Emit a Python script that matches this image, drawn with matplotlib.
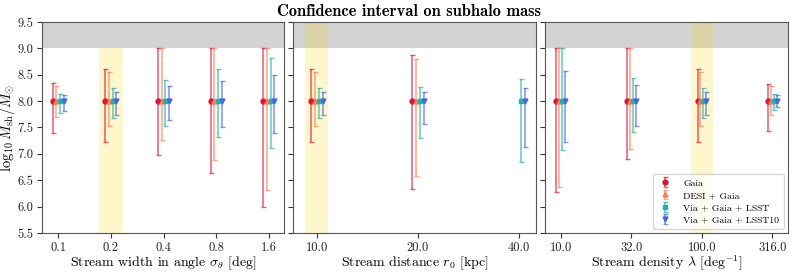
import numpy as np
import matplotlib
matplotlib.use("Agg")
import matplotlib.pyplot as plt

plt.rcParams['font.family'] = 'serif'
plt.rcParams['font.serif'] = ['cmr10', 'DejaVu Serif']
plt.rcParams['mathtext.fontset'] = 'cm'
plt.rcParams['axes.formatter.use_mathtext'] = True

# ---------------- data ----------------
series = ["Gaia", "DESI + Gaia", "Via + Gaia + LSST", "Via + Gaia + LSST10"]
colors = ["crimson", "coral", "lightseagreen", "royalblue"]
markers = ["o", "^", "s", "v"]
center = 8.0

# panel 1: stream width
width_labels = ["0.1", "0.2", "0.4", "0.8", "1.6"]
width_lo = {
    "Gaia":                [7.40, 7.23, 6.98, 6.64, 6.00],
    "DESI + Gaia":         [7.69, 7.52, 7.26, 6.89, 6.31],
    "Via + Gaia + LSST":   [7.77, 7.68, 7.52, 7.32, 7.12],
    "Via + Gaia + LSST10": [7.81, 7.745, 7.64, 7.51, 7.39],
}
width_hi = {
    "Gaia":                [8.34, 8.60, 9.00, 9.00, 9.00],
    "DESI + Gaia":         [8.29, 8.55, 9.00, 9.00, 9.00],
    "Via + Gaia + LSST":   [8.14, 8.245, 8.40, 8.61, 8.81],
    "Via + Gaia + LSST10": [8.11, 8.17, 8.28, 8.39, 8.49],
}

# panel 2: stream distance
dist_labels = ["10.0", "20.0", "40.0"]
dist_lo = {
    "Gaia":                [7.23, 6.34, np.nan],
    "DESI + Gaia":         [7.52, 6.59, np.nan],
    "Via + Gaia + LSST":   [7.68, 7.30, 6.85],
    "Via + Gaia + LSST10": [7.745, 7.56, 7.13],
}
dist_hi = {
    "Gaia":                [8.60, 8.88, np.nan],
    "DESI + Gaia":         [8.55, 8.80, np.nan],
    "Via + Gaia + LSST":   [8.245, 8.275, 8.41],
    "Via + Gaia + LSST10": [8.17, 8.17, 8.24],
}

# panel 3: stream density
dens_labels = ["10.0", "32.0", "100.0", "316.0"]
dens_lo = {
    "Gaia":                [6.27, 6.90, 7.23, 7.44],
    "DESI + Gaia":         [6.37, 7.095, 7.52, 7.74],
    "Via + Gaia + LSST":   [7.08, 7.41, 7.68, 7.83],
    "Via + Gaia + LSST10": [7.23, 7.52, 7.745, 7.88],
}
dens_hi = {
    "Gaia":                [9.00, 9.00, 8.60, 8.32],
    "DESI + Gaia":         [9.00, 9.00, 8.55, 8.28],
    "Via + Gaia + LSST":   [9.00, 8.43, 8.24, 8.14],
    "Via + Gaia + LSST10": [8.57, 8.30, 8.17, 8.11],
}

xlabels = [r"Stream width in angle $\sigma_\theta$ [deg]",
           r"Stream distance $r_0$ [kpc]",
           r"Stream density $\lambda$ [deg$^{-1}$]"]
fiducial_index = [1, 0, 2]
yticks = [5.5, 6.0, 6.5, 7.0, 7.5, 8.0, 8.5, 9.0, 9.5]

# ---------------- figure ----------------
W, H = 793, 273
fig = plt.figure(figsize=(W / 100, H / 100), dpi=100)
boxes = [(42, 284), (293, 536), (545, 788)]
top, bottom = 22, 233
axes = [fig.add_axes([l / W, (H - bottom) / H, (r - l) / W, (bottom - top) / H]) for l, r in boxes]

panels = [(width_labels, width_lo, width_hi),
          (dist_labels, dist_lo, dist_hi),
          (dens_labels, dens_lo, dens_hi)]
offsets_step = [0.070, 0.040, 0.041]
xlims = [(-0.31, 4.29), (-0.234, 2.165), (-0.222, 3.22)]
band_half = [0.228, 0.113, 0.157]

for k, (ax, (labels, lo, hi)) in enumerate(zip(axes, panels)):
    n = len(labels)
    xpos = np.arange(n)
    ax.axhspan(9.0, 9.5, color="lightgray", zorder=0, lw=0)
    fi = fiducial_index[k]
    if k == 0:
        ax.axvspan(fi - band_half[k], fi + band_half[k], ymax=(9.0 - 5.5) / 4.0,
                   color="gold", alpha=0.2, lw=0, zorder=0.5)
    else:
        ax.axvspan(fi - band_half[k], fi + band_half[k],
                   color="gold", alpha=0.2, lw=0, zorder=0.5)
    for j, s in enumerate(series):
        lo_a = np.array(lo[s], dtype=float)
        hi_a = np.array(hi[s], dtype=float)
        y = np.where(np.isnan(lo_a), np.nan, center)
        yerr = np.vstack([y - lo_a, hi_a - y])
        x = xpos + (j - 1.5) * offsets_step[k]
        eb = ax.errorbar(x, y, yerr=yerr, fmt=markers[j], color=colors[j],
                         ms=3.5, elinewidth=1.1, capsize=1.8, capthick=1.0,
                         ecolor=colors[j], label=s, zorder=3)
        for c in eb[1]:
            c.set_alpha(0.7)
        for c in eb[2]:
            c.set_alpha(0.7)
    ax.set_xticks(xpos)
    ax.set_xticklabels(labels, fontsize=9)
    ax.set_xlim(*xlims[k])
    ax.set_ylim(5.5, 9.5)
    ax.set_yticks(yticks)
    if k == 0:
        ax.set_yticklabels([f"{v:.1f}" for v in yticks], fontsize=9)
        ax.set_ylabel(r"$\log_{10} M_{\rm sh}/M_{\odot}$", fontsize=10.5)
        ax.yaxis.set_label_coords((17.5 - 42) / 242, 0.5)
    else:
        ax.set_yticklabels([])
    ax.set_xlabel(xlabels[k], fontsize=10, labelpad=0)
    for sp in ax.spines.values():
        sp.set_color("#555555")
    ax.tick_params(colors="#333333", labelcolor="#222222", length=3.5, pad=3)

leg = axes[2].legend(loc="lower right", fontsize=7, frameon=True,
                     handlelength=1.5, borderpad=0.5, labelspacing=0.35,
                     handletextpad=1.1, borderaxespad=0.4,
                     framealpha=0.8, edgecolor="#cccccc", fancybox=True)

fig.text(409 / W, 1 - 11 / H, "Confidence interval on subhalo mass",
         ha="center", va="center", fontsize=11.8, family="cmb10")

fig.savefig("out.png", dpi=100)
